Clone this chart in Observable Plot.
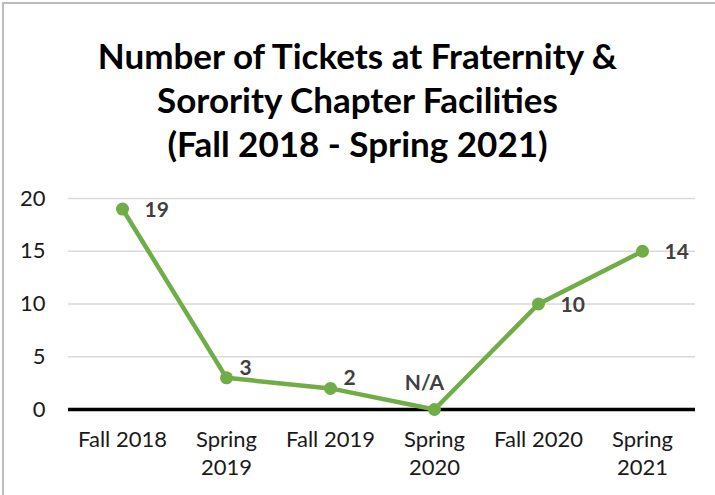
<!DOCTYPE html>
<html>
<head>
<meta charset="utf-8">
<script src="https://cdn.jsdelivr.net/npm/d3@7"></script>
<script src="https://cdn.jsdelivr.net/npm/@observablehq/plot@0.6"></script>
<style>
  html, body { margin: 0; padding: 0; background: #fff; }
  #frame { position: relative; width: 715px; height: 495px; overflow: hidden; background: #fff; }
  #border { position: absolute; left: 2px; top: 2px; width: 720px; height: 500px; border-left: 2px solid #bdbdbd; border-top: 2px solid #bdbdbd; box-sizing: border-box; }
  #title { position: absolute; left: 0; top: 33px; width: 715px; text-align: center; font-family: Lato, sans-serif; font-weight: bold; font-size: 35px; line-height: 44px; color: #000; }
  #chart { position: absolute; left: 0; top: 170px; }
</style>
</head>
<body>
<div id="frame">
  <div id="border"></div>
  <div id="title">Number of Tickets at Fraternity &amp;<br>Sorority Chapter Facilities<br>(Fall 2018 - Spring 2021)</div>
  <div id="chart"></div>
</div>
<script>
const terms = ["Fall 2018", "Spring 2019", "Fall 2019", "Spring 2020", "Fall 2020", "Spring 2021"];
const tickLabels = ["Fall 2018", "Spring\n2019", "Fall 2019", "Spring\n2020", "Fall 2020", "Spring\n2021"];
const tickets = [19, 3, 2, 0, 10, 15];
const pointLabels = ["19", "3", "2", "N/A", "10", "14"];
const labelPlacement = ["right", "upright", "upright", "above", "right", "right"];
const yTicks = [0, 5, 10, 15, 20];

const data = terms.map((t, i) => ({term: t, value: tickets[i], label: pointLabels[i], place: labelPlacement[i]}));
const tickMap = new Map(terms.map((t, i) => [t, tickLabels[i]]));

const green = "#70ad47";
const font = "Lato, sans-serif";

const chart = Plot.plot({
  width: 715,
  height: 325,
  marginLeft: 68,
  marginRight: 20,
  marginTop: 28,
  marginBottom: 86,
  style: {fontFamily: font, fontSize: "22px", color: "#1a1a1a", background: "transparent", overflow: "visible"},
  x: {type: "point", domain: terms, padding: 0.5, label: null},
  y: {domain: [0, 20], label: null},
  marks: [
    Plot.gridY(yTicks.filter(d => d > 0), {stroke: "#d9d9d9", strokeOpacity: 1, strokeWidth: 1.5}),
    Plot.axisY(yTicks, {tickSize: 0, tickPadding: 23, fontSize: 22, fill: "#1a1a1a", label: null}),
    Plot.axisX({tickSize: 0, tickPadding: 17, fontSize: 22, fill: "#1a1a1a", lineHeight: 1.3, tickFormat: d => tickMap.get(d), label: null}),
    Plot.ruleY([0], {stroke: "#000", strokeWidth: 3.5}),
    Plot.line(data, {x: "term", y: "value", stroke: green, strokeWidth: 4.5, strokeLinejoin: "round"}),
    Plot.dot(data, {x: "term", y: "value", r: 6.5, fill: green, stroke: "none"}),
    Plot.text(data.filter(d => d.place === "right"), {x: "term", y: "value", text: "label", textAnchor: "start", dx: 22, dy: 1, fontWeight: "bold", fontSize: 21, fill: "#404040"}),
    Plot.text(data.filter(d => d.place === "upright"), {x: "term", y: "value", text: "label", textAnchor: "start", dx: 13, dy: -10, fontWeight: "bold", fontSize: 21, fill: "#404040"}),
    Plot.text(data.filter(d => d.place === "above"), {x: "term", y: "value", text: "label", textAnchor: "middle", dx: -10, dy: -26, fontWeight: "bold", fontSize: 21, fill: "#404040"})
  ]
});
document.getElementById("chart").appendChild(chart);
</script>
</body>
</html>
